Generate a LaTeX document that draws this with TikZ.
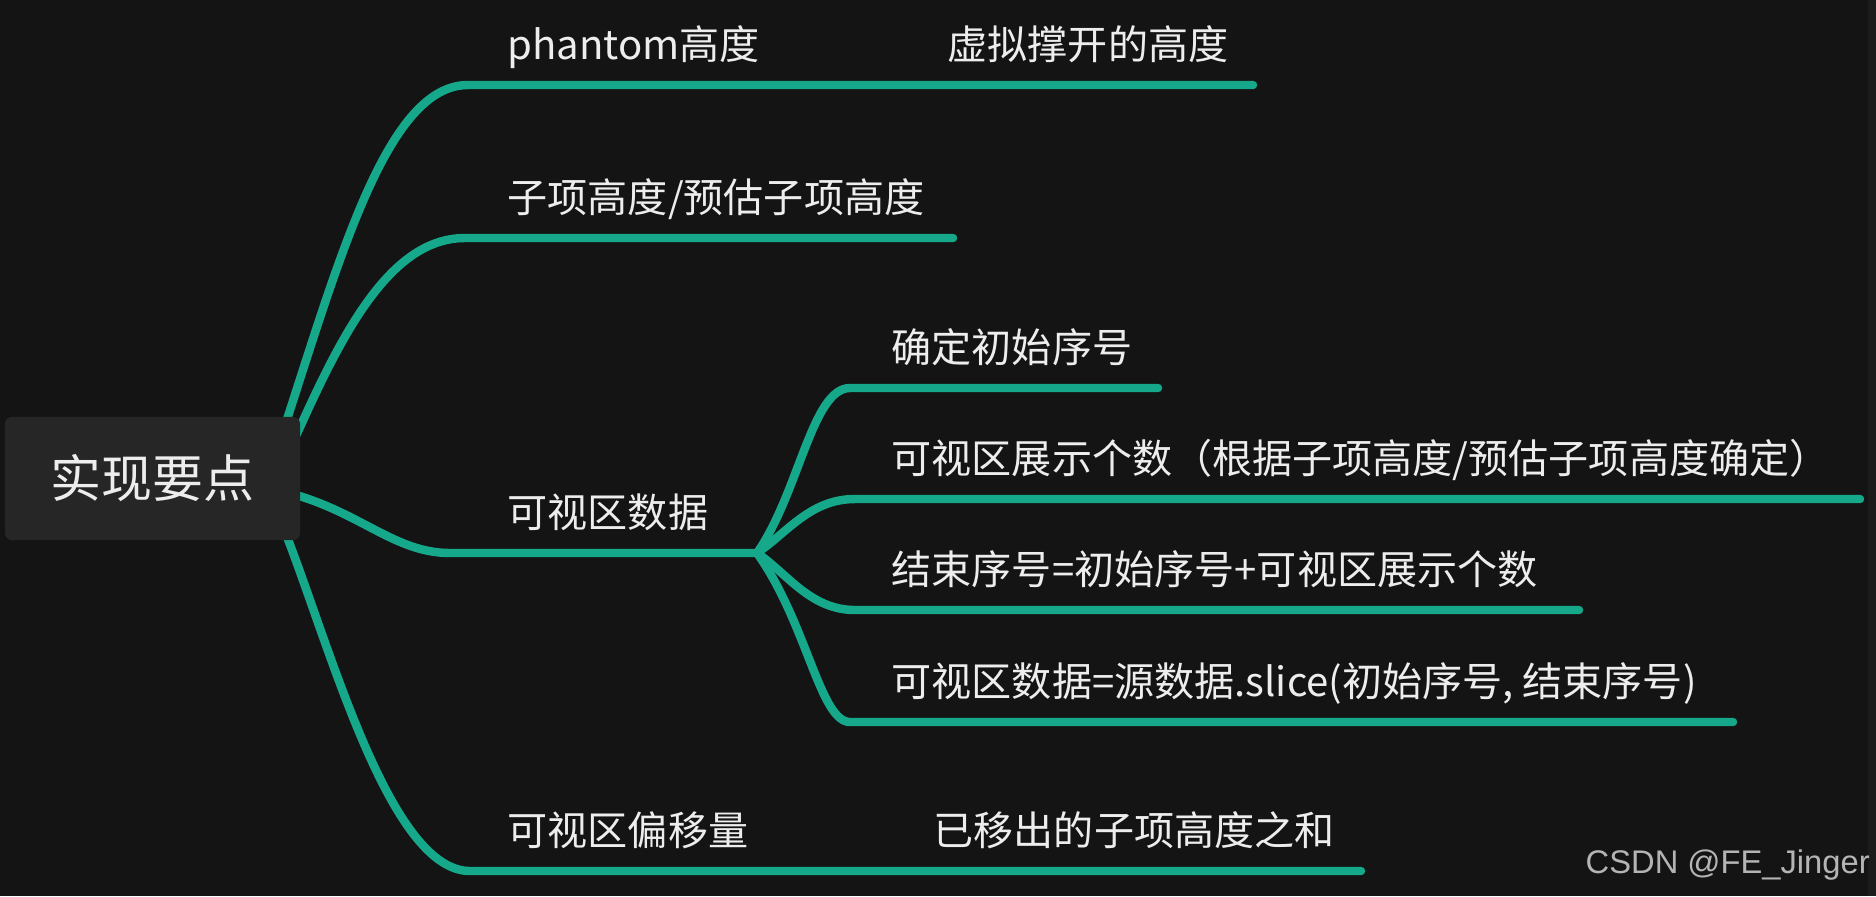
\documentclass[tikz,border=0pt]{standalone}
\usepackage{fontspec}
\setmainfont{Noto Sans CJK SC}
\newfontfamily\wmfont{Liberation Sans}
\usetikzlibrary{backgrounds}
\definecolor{mmbg}{HTML}{141414}
\definecolor{mmstrip}{HTML}{1C1C1C}
\definecolor{mmroot}{HTML}{262626}
\definecolor{mmteal}{HTML}{16A88A}
\definecolor{mmtext}{HTML}{EDEDED}
\definecolor{mmgray}{HTML}{B4B4B4}

\begin{document}
\begin{tikzpicture}[
  x=0.01cm, y=-0.01cm,
  rootbox/.style={rectangle, rounded corners=0.07cm, fill=mmroot, text=mmtext, minimum width=2.95cm, minimum height=1.23cm, font=\fontsize{14.5pt}{17pt}\selectfont},
  topic/.style={anchor=base west, inner sep=0pt, text=mmtext, font=\fontsize{11.4pt}{14pt}\selectfont},
  branch/.style={draw=mmteal, line width=2.4pt, line cap=round},
]
\node[rootbox] (root) at (152.5,478.5) {实现要点};

\node[topic] (phantom) at (507,59) {phantom高度};
\node[topic] (phantomval) at (947,59) {虚拟撑开的高度};
\node[topic] (itemh) at (507,212) {子项高度/预估子项高度};
\node[topic] (visdata) at (507,527) {可视区数据};
\node[topic] (offset) at (507,845) {可视区偏移量};
\node[topic] (offsetval) at (933,845) {已移出的子项高度之和};
\node[topic] (startidx) at (891,362) {确定初始序号};
\node[topic] (count) at (891,473) {可视区展示个数（根据子项高度/预估子项高度确定）};
\node[topic] (endidx) at (891,584) {结束序号=初始序号+可视区展示个数};
\node[topic] (slice) at (891,696) {可视区数据=源数据.slice(初始序号, 结束序号)};
\node[anchor=base west, inner sep=0pt, text=mmgray, font=\wmfont\fontsize{9.3pt}{11pt}\selectfont] (credit) at (1585,873) {CSDN @FE\_Jinger};

\coordinate (k1) at (468,85);  \coordinate (e1) at (1253,85);
\coordinate (k2) at (465,238); \coordinate (e2) at (953,238);
\coordinate (k3) at (450,553); \coordinate (split) at (757,553);
\coordinate (k4) at (470,871); \coordinate (e4) at (1361,871);
\coordinate (k5) at (850,388); \coordinate (e5) at (1158,388);
\coordinate (k6) at (855,499); \coordinate (e6) at (1860,499);
\coordinate (k7) at (855,610); \coordinate (e7) at (1579,610);
\coordinate (k8) at (850,722); \coordinate (e8) at (1733,722);

\begin{scope}[on background layer]
\fill[mmbg] (0,0) rectangle (1876,896);
\fill[mmstrip] (1868,0) rectangle (1876,896);
\draw[branch] ([xshift=-0.17cm,yshift=-0.13cm]root.north east) .. controls +(57,-175) and +(-80,0) .. (k1) -- (e1);
\draw[branch] ([xshift=-0.04cm,yshift=-0.18cm]root.north east) .. controls +(45,-100) and +(-75,0) .. (k2) -- (e2);
\draw[branch] ([xshift=-0.1cm,yshift=-0.15cm]root.east) .. controls +(70,19) and +(-55,0) .. (k3) -- (split);
\draw[branch] ([xshift=-0.15cm,yshift=0.07cm]root.south east) .. controls +(45,115) and +(-80,0) .. (k4) -- (e4);
\draw[branch] (split) .. controls +(42,-60) and +(-38,0) .. (k5) -- (e5);
\draw[branch] (split) .. controls +(30,-20) and +(-45,0) .. (k6) -- (e6);
\draw[branch] (split) .. controls +(30,20) and +(-45,0) .. (k7) -- (e7);
\draw[branch] (split) .. controls +(50,70) and +(-30,0) .. (k8) -- (e8);
\end{scope}
\end{tikzpicture}
\end{document}
